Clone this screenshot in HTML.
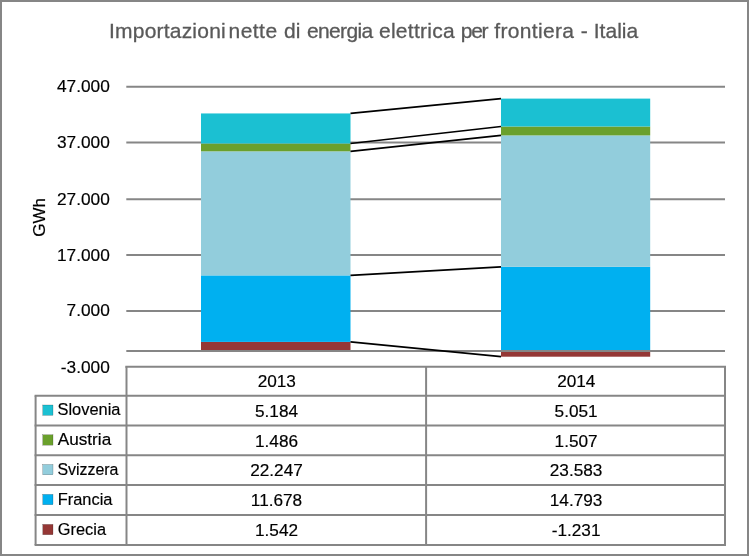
<!DOCTYPE html>
<html lang="it"><head><meta charset="utf-8"><title>Importazioni nette di energia elettrica per frontiera - Italia</title>
<style>html,body{margin:0;padding:0;background:#fff}body{width:749px;height:556px;overflow:hidden}svg{display:block}text{font-family:"Liberation Sans",Arial,sans-serif}.k{stroke:#000;stroke-width:.18px}</style></head><body>
<svg width="749" height="556" viewBox="0 0 749 556">
<rect x="0" y="0" width="749" height="556" fill="#fff"/>
<rect x="1" y="1" width="747" height="554" fill="none" stroke="#868686" stroke-width="2"/>
<text y="37.8" font-size="21" fill="#595959" stroke="#595959" stroke-width="0.3"><tspan x="109.00" letter-spacing="0.210">Importazioni</tspan> <tspan x="228.60" letter-spacing="0.440">nette</tspan> <tspan x="284.00" letter-spacing="-0.050">di</tspan> <tspan x="306.90" letter-spacing="-0.610">energia</tspan> <tspan x="379.00" letter-spacing="0.260">elettrica</tspan> <tspan x="460.80" letter-spacing="-1.300">per</tspan> <tspan x="494.30" letter-spacing="0.320">frontiera</tspan> <tspan x="580.80" letter-spacing="0.000">-</tspan> <tspan x="593.70" letter-spacing="0.040">Italia</tspan></text>
<line x1="126.3" y1="86.65" x2="725.0" y2="86.65" stroke="#868686" stroke-width="2"/>
<line x1="126.3" y1="142.5" x2="725.0" y2="142.5" stroke="#868686" stroke-width="2"/>
<line x1="126.3" y1="199.2" x2="725.0" y2="199.2" stroke="#868686" stroke-width="2"/>
<line x1="126.3" y1="255.0" x2="725.0" y2="255.0" stroke="#868686" stroke-width="2"/>
<line x1="126.3" y1="310.9" x2="725.0" y2="310.9" stroke="#868686" stroke-width="2"/>
<rect x="201.0" y="341.9" width="149.50" height="8.30" fill="#953735"/>
<rect x="201.0" y="275.4" width="149.50" height="66.50" fill="#00b0f0"/>
<rect x="201.0" y="151.3" width="149.50" height="124.10" fill="#92cddc"/>
<rect x="201.0" y="143.5" width="149.50" height="7.80" fill="#6aa02c"/>
<rect x="201.0" y="113.45" width="149.50" height="30.05" fill="#1bc0d2"/>
<rect x="501.0" y="351.0" width="149.20" height="5.70" fill="#953735"/>
<rect x="501.0" y="266.8" width="149.20" height="84.20" fill="#00b0f0"/>
<rect x="501.0" y="135.4" width="149.20" height="131.40" fill="#92cddc"/>
<rect x="501.0" y="126.5" width="149.20" height="8.90" fill="#6aa02c"/>
<rect x="501.0" y="98.6" width="149.20" height="27.90" fill="#1bc0d2"/>
<line x1="126.3" y1="351" x2="725.0" y2="351" stroke="#868686" stroke-width="2"/>
<line x1="350.5" y1="341.90" x2="501.0" y2="356.70" stroke="#000" stroke-width="1.75"/>
<line x1="350.5" y1="275.40" x2="501.0" y2="266.80" stroke="#000" stroke-width="1.75"/>
<line x1="350.5" y1="151.30" x2="501.0" y2="135.40" stroke="#000" stroke-width="1.75"/>
<line x1="350.5" y1="143.50" x2="501.0" y2="126.50" stroke="#000" stroke-width="1.75"/>
<line x1="350.5" y1="113.45" x2="501.0" y2="98.60" stroke="#000" stroke-width="1.75"/>
<text x="109.8" y="92.2" font-size="17.3" fill="#000" class="k" text-anchor="end">47.000</text>
<text x="109.8" y="148.0" font-size="17.3" fill="#000" class="k" text-anchor="end">37.000</text>
<text x="109.8" y="204.7" font-size="17.3" fill="#000" class="k" text-anchor="end">27.000</text>
<text x="109.8" y="260.5" font-size="17.3" fill="#000" class="k" text-anchor="end">17.000</text>
<text x="109.8" y="316.4" font-size="17.3" fill="#000" class="k" text-anchor="end">7.000</text>
<text x="109.8" y="372.8" font-size="17.3" fill="#000" class="k" text-anchor="end">-3.000</text>
<text class="k" transform="translate(45.2,217.3) rotate(-90)" font-size="17" fill="#000" text-anchor="middle">GWh</text>
<g stroke="#868686" stroke-width="2.0" fill="none">
<line x1="125.3" y1="366.7" x2="726.0" y2="366.7"/>
<line x1="34.6" y1="395.7" x2="726.0" y2="395.7"/>
<line x1="34.6" y1="425.5" x2="726.0" y2="425.5"/>
<line x1="34.6" y1="455.3" x2="726.0" y2="455.3"/>
<line x1="34.6" y1="485.0" x2="726.0" y2="485.0"/>
<line x1="34.6" y1="515.1" x2="726.0" y2="515.1"/>
<line x1="34.6" y1="545.0" x2="726.0" y2="545.0"/>
<line x1="35.6" y1="395.7" x2="35.6" y2="545.0"/>
<line x1="126.5" y1="366.7" x2="126.5" y2="545.0"/>
<line x1="426.1" y1="366.7" x2="426.1" y2="545.0"/>
<line x1="725.0" y1="366.7" x2="725.0" y2="545.0"/>
</g>
<g class="k" font-size="17.2" fill="#000" text-anchor="middle">
<text x="276.8" y="387.0">2013</text><text x="576.3" y="387.0">2014</text>
<text x="276.5" y="416.9">5.184</text><text x="576.1" y="416.9">5.051</text>
<text x="276.5" y="446.7">1.486</text><text x="576.1" y="446.7">1.507</text>
<text x="276.5" y="476.4">22.247</text><text x="576.1" y="476.4">23.583</text>
<text x="276.5" y="506.4">11.678</text><text x="576.1" y="506.4">14.793</text>
<text x="276.5" y="536.3">1.542</text><text x="576.1" y="536.3">-1.231</text>
</g>
<g class="k" font-size="16.75" fill="#000">
<rect x="42.8" y="405.0" width="10.2" height="10.3" fill="#1bc0d2"/>
<text x="57.5" y="415.3" textLength="62.9" lengthAdjust="spacingAndGlyphs">Slovenia</text>
<rect x="42.8" y="434.8" width="10.2" height="10.3" fill="#6aa02c"/>
<text x="57.8" y="445.1" textLength="53.4" lengthAdjust="spacingAndGlyphs">Austria</text>
<rect x="42.8" y="464.5" width="10.2" height="10.3" fill="#92cddc"/>
<text x="57.4" y="474.8" textLength="61.1" lengthAdjust="spacingAndGlyphs">Svizzera</text>
<rect x="42.8" y="494.4" width="10.2" height="10.3" fill="#00b0f0"/>
<text x="57.8" y="504.8" textLength="54.6" lengthAdjust="spacingAndGlyphs">Francia</text>
<rect x="42.8" y="524.4" width="10.2" height="10.3" fill="#953735"/>
<text x="57.8" y="534.8" textLength="48.2" lengthAdjust="spacingAndGlyphs">Grecia</text>
</g>
</svg></body></html>
